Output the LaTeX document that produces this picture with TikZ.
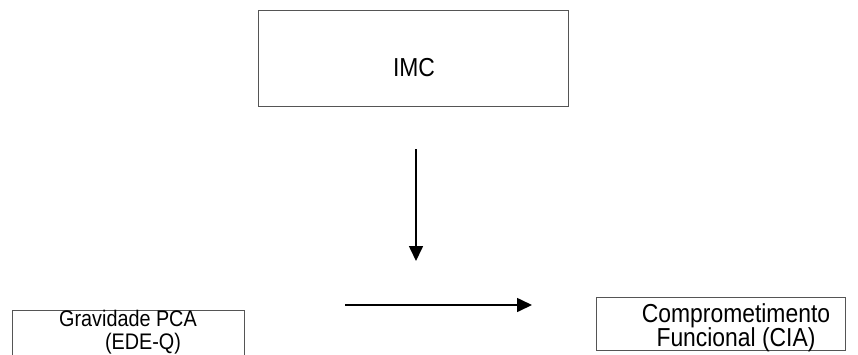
\documentclass[tikz,border=0pt]{standalone}
\usepackage{fontspec}
\setmainfont{Liberation Sans}[FakeStretch=0.88]
\usetikzlibrary{arrows.meta}
\definecolor{boxgray}{RGB}{85,85,85}
\begin{document}
\begin{tikzpicture}[x=1pt,y=-1pt,
  box/.style={draw=boxgray, line width=1pt, inner sep=0pt},
  lbl/.style={inner sep=0pt, anchor=base},
  arr/.style={line width=1.6pt, -{Triangle[length=15pt,width=14pt]}}]
\useasboundingbox (0,0) rectangle (858,354);
\clip (0,0) rectangle (858,354);
\fill[white] (0,0) rectangle (858,354);
% boxes
\node[box, minimum width=310pt, minimum height=96pt] (imc) at (413,58) {};
\node[lbl, font=\fontsize{26}{30}\selectfont] (imct) at (414,76) {IMC};
\node[box, minimum width=232pt, minimum height=100pt] (gpca) at (128,360) {};
\node[lbl, font=\fontsize{22.5}{27}\selectfont] (gpca1) at (128,326.5) {Gravidade PCA};
\node[lbl, font=\fontsize{22.5}{27}\selectfont] (gpca2) at (143,349.5) {(EDE-Q)};
\node[box, minimum width=249pt, minimum height=53pt] (cia) at (720.5,323.5) {};
\node[lbl, font=\fontsize{26}{30}\selectfont] (cia1) at (736,322.5) {Comprometimento};
\node[lbl, font=\fontsize{26}{30}\selectfont] (cia2) at (736,346) {Funcional (CIA)};
% arrows
\coordinate (vs) at (416,149);
\coordinate (ve) at (416,261);
\coordinate (hs) at (345,305);
\coordinate (he) at (532,305);
\draw[arr] (vs) -- (ve);
\draw[arr] (hs) -- (he);
\end{tikzpicture}
\end{document}
